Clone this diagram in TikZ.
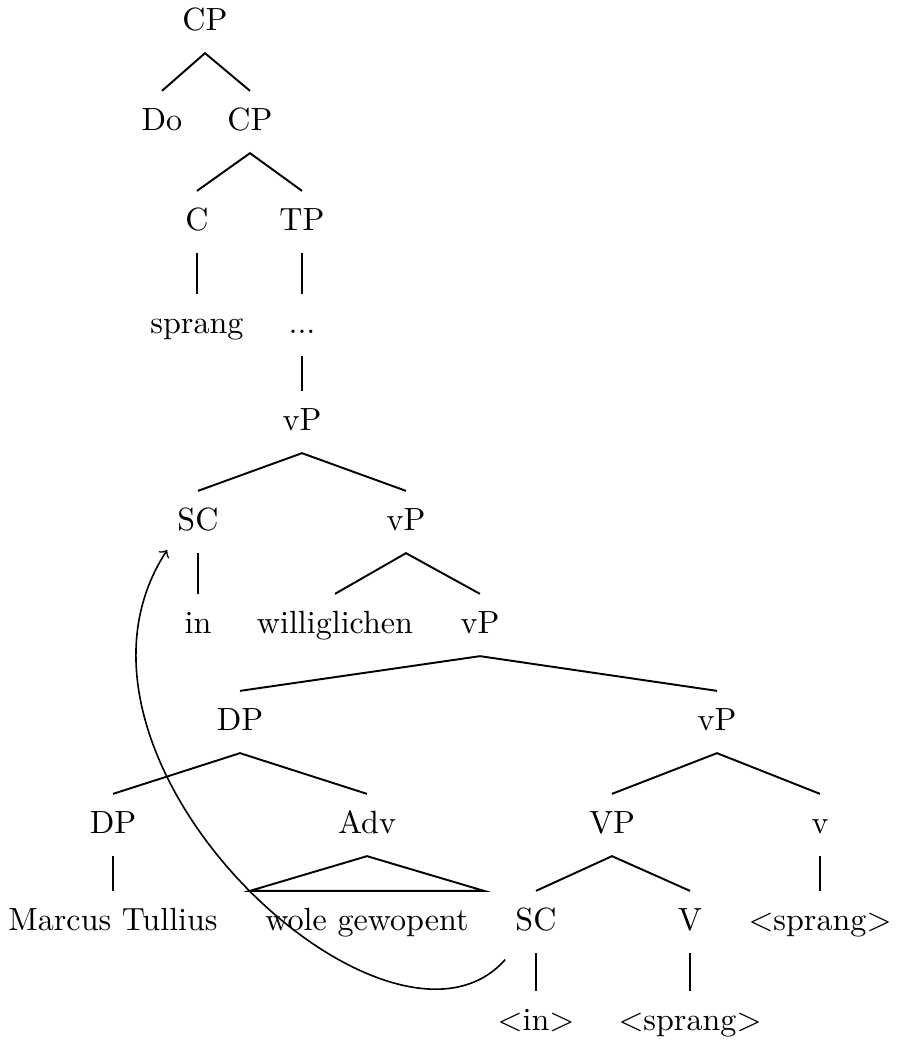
\documentclass[tikz,border=0pt]{standalone}
\begin{document}
\begin{tikzpicture}[x=0.3115pt,y=-0.3115pt,
  n/.style={inner sep=0pt, minimum height=19pt, text height=7pt, text depth=2pt},
  br/.style={line width=0.6pt},
  mv/.style={->, line width=0.5pt}]
\useasboundingbox (0,0) rectangle (903,1049);
% level nodes
\node[n] (cp1) at (205,22) {CP};
\node[n] (do) at (162,122) {Do};
\node[n] (cp2) at (250,122) {CP};
\node[n] (c) at (197,222) {C};
\node[n] (tp) at (302,222) {TP};
\node[n] (sprang) at (197,325) {sprang};
\node[n] (dots) at (302,325) {...};
\node[n] (vp1) at (302,422) {vP};
\node[n] (sc1) at (198,522) {SC};
\node[n] (vp2) at (406,522) {vP};
\node[n] (in) at (198,625) {in};
\node[n] (will) at (335,625) {williglichen};
\node[n] (vp3) at (480,625) {vP};
\node[n] (dp1) at (240,722) {DP};
\node[n] (vp4) at (717,722) {vP};
\node[n] (dp2) at (113,825) {DP};
\node[n] (adv) at (367,825) {Adv};
\node[n] (vpb) at (612,825) {VP};
\node[n] (v) at (820,825) {v};
\node[n] (marcus) at (113,922) {Marcus Tullius};
\node[n, inner xsep=4.6pt] (wole) at (367,922) {wole gewopent};
\node[n] (sc2) at (536,922) {SC};
\node[n] (V) at (690,922) {V};
\node[n] (vsprang) at (820,922) {$<$sprang$>$};
\node[n] (tin) at (536,1022) {$<$in$>$};
\node[n] (Vsprang) at (690,1022) {$<$sprang$>$};
% branches
\draw[br] (do.north) -- (cp1.south) -- (cp2.north);
\draw[br] (c.north) -- (cp2.south) -- (tp.north);
\draw[br] (c.south) -- (sprang.north);
\draw[br] (tp.south) -- (dots.north);
\draw[br] (dots.south) -- (vp1.north);
\draw[br] (sc1.north) -- (vp1.south) -- (vp2.north);
\draw[br] (sc1.south) -- (in.north);
\draw[br] (will.north) -- (vp2.south) -- (vp3.north);
\draw[br] (dp1.north) -- (vp3.south) -- (vp4.north);
\draw[br] (dp2.north) -- (dp1.south) -- (adv.north);
\draw[br] (vpb.north) -- (vp4.south) -- (v.north);
\draw[br] (sc2.north) -- (vpb.south) -- (V.north);
\draw[br] (dp2.south) -- (marcus.north);
\draw[br] (v.south) -- (vsprang.north);
\draw[br] (sc2.south) -- (tin.north);
\draw[br] (V.south) -- (Vsprang.north);
\draw[br] (adv.south) -- (wole.north west) -- (wole.north east) -- cycle;
% movement arrow
\draw[mv] ([xshift=-3pt,yshift=-2pt]sc2.south west) .. controls (390,1090) and (30,760) .. ([xshift=-3pt,yshift=1pt]sc1.south west);
\end{tikzpicture}
\end{document}
